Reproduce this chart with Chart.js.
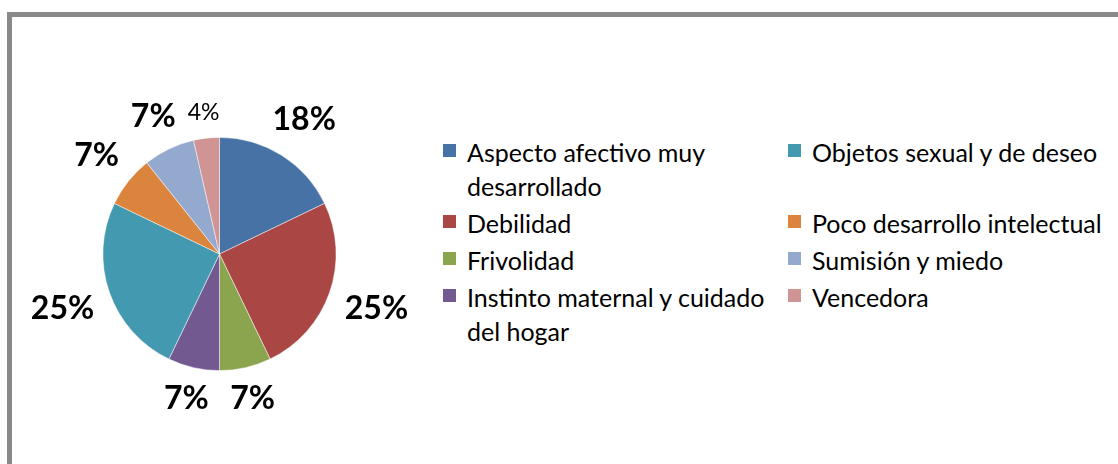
<!DOCTYPE html>
<html>
<head>
<meta charset="utf-8">
<script src="https://cdn.jsdelivr.net/npm/chart.js@4.4.1/dist/chart.umd.min.js"></script>
<style>
  html, body { margin: 0; padding: 0; background: #fff; width: 1118px; height: 464px; overflow: hidden; font-family: Lato, "Noto Sans", sans-serif; }
  #frame { position: absolute; left: 7px; top: 12px; width: 1200px; height: 500px; border-left: 5px solid #898989; border-top: 5px solid #898989; box-sizing: border-box; }
  #wrap { position: absolute; left: 0; top: 0; width: 440px; height: 464px; }
  #legend { position: absolute; left: 443px; top: 135px; display: grid; grid-template-columns: 345px auto; row-gap: 3px; color: #000; font-size: 25px; line-height: 34px; }
  .item { display: flex; align-items: flex-start; }
  .sw { width: 13px; height: 13px; margin-top: 9px; margin-right: 11px; flex: none; }
  .txt { width: 318px; }
</style>
</head>
<body>
<div id="frame"></div>
<div id="wrap"><canvas id="c" width="440" height="464"></canvas></div>
<div id="legend"></div>
<script>
const categories = [
  "Aspecto afectivo muy desarrollado",
  "Debilidad",
  "Frivolidad",
  "Instinto maternal y cuidado del hogar",
  "Objetos sexual y de deseo",
  "Poco desarrollo intelectual",
  "Sumisión y miedo",
  "Vencedora"
];
const counts = [5, 7, 2, 2, 7, 2, 2, 1];
const colors = ["#4672A6", "#AA4744", "#8BA54E", "#725A91", "#4399B0", "#DB843D", "#94A9CE", "#D09494"];

const labelPlugin = {
  id: 'pctLabels',
  afterDatasetsDraw(chart, args, opts) {
    const ctx = chart.ctx;
    const meta = chart.getDatasetMeta(0);
    const data = chart.data.datasets[0].data;
    const total = data.reduce((a, b) => a + b, 0);
    ctx.save();
    ctx.textAlign = 'center';
    ctx.textBaseline = 'middle';
    ctx.fillStyle = '#000';
    meta.data.forEach((arc, i) => {
      const p = arc.getProps(['x', 'y', 'startAngle', 'endAngle', 'outerRadius'], true);
      const mid = (p.startAngle + p.endAngle) / 2;
      const txt = Math.round(data[i] / total * 100) + '%';
      const small = opts.plain.includes(i);
      const size = small ? opts.sizeSmall : opts.size;
      ctx.font = (small ? '' : 'bold ') + size + 'px ' + opts.family;
      const w = ctx.measureText(txt).width;
      const h = size * 0.72;
      const c = Math.cos(mid), s = Math.sin(mid);
      const d = p.outerRadius + opts.gap + Math.abs(c) * w / 2 + Math.abs(s) * h / 2;
      ctx.fillText(txt, p.x + c * d, p.y + s * d);
    });
    ctx.restore();
  }
};

new Chart(document.getElementById('c'), {
  type: 'pie',
  data: {
    labels: categories,
    datasets: [{
      data: counts,
      backgroundColor: colors,
      borderColor: 'rgba(255,255,255,0.6)',
      borderWidth: 0.8,
      hoverOffset: 0
    }]
  },
  options: {
    responsive: false,
    animation: false,
    layout: { padding: { left: 102.5, top: 137, right: 103.5, bottom: 93 } },
    plugins: {
      legend: { display: false },
      tooltip: { enabled: false },
      pctLabels: {
        gap: 16,
        plain: [7],
        size: 32,
        sizeSmall: 23,
        family: 'Lato, "Noto Sans", sans-serif'
      }
    }
  },
  plugins: [labelPlugin]
});

// Legend: two columns, column-major order like the reference
const legend = document.getElementById('legend');
const half = Math.ceil(categories.length / 2);
for (let r = 0; r < half; r++) {
  [r, r + half].forEach(i => {
    const item = document.createElement('div');
    item.className = 'item';
    item.innerHTML = '<span class="sw" style="background:' + colors[i] + '"></span><span class="txt"></span>';
    item.querySelector('.txt').textContent = categories[i];
    legend.appendChild(item);
  });
}
</script>
</body>
</html>
